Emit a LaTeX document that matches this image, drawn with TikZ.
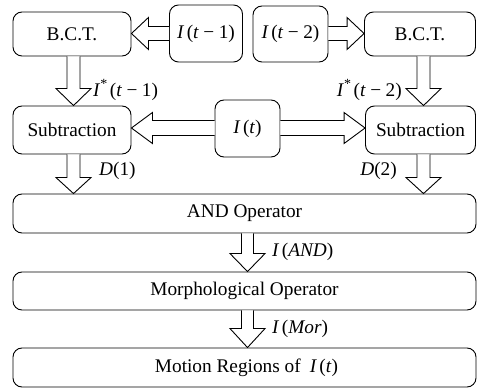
\documentclass[tikz,border=0pt]{standalone}
\usepackage{fontspec}
\setmainfont{Liberation Serif}
\usetikzlibrary{calc}
\tikzset{
  box/.style={draw, line width=0.9pt, rounded corners=9pt, inner sep=0pt, align=center,
    font=\fontsize{19.3}{23}\selectfont},
  blk/.style={draw, line width=0.9pt, fill=white, line join=miter},
  lbl/.style={inner sep=0pt, font=\fontsize{19.3}{23}\selectfont}
}
\newcommand{\ital}[1]{\textit{#1}}
\newcommand{\ststar}{\raisebox{0.42em}{\fontsize{14}{14}\selectfont *}}
\newcommand{\mminus}{\hspace{4.5pt}−\hspace{4.5pt}}
\newcommand{\iopen}{\hspace{2.5pt}(}
% vertical block arrow: #1 start point, #2 end point (tip), #3 shaft half, #4 head half, #5 head length
\newcommand{\vblk}[5]{%
  \path[blk] let \p1=#1, \p2=#2 in
   (\x1-#3,\y1) -- (\x1-#3,\y2+#5) -- (\x1-#4,\y2+#5) -- (\x1,\y2) -- (\x1+#4,\y2+#5)
   -- (\x1+#3,\y2+#5) -- (\x1+#3,\y1);}
% horizontal block arrow, #6 = direction (+1 right, -1 left)
\newcommand{\hblk}[6]{%
  \path[blk] let \p1=#1, \p2=#2 in
   (\x1,\y1+#3) -- (\x2-#6*#5,\y1+#3) -- (\x2-#6*#5,\y1+#4) -- (\x2,\y1) -- (\x2-#6*#5,\y1-#4)
   -- (\x2-#6*#5,\y1-#3) -- (\x1,\y1-#3);}
\begin{document}
\begin{tikzpicture}[x=1pt,y=1pt]
\useasboundingbox (0,0) rectangle (477,-390);
\node[box, minimum width=118, minimum height=44] (bct1) at (72,-34) {B.C.T.};
\node[box, minimum width=73, minimum height=57] (it1) at (206,-33.5) {\ital{I}\iopen\ital{t}\mminus 1)};
\node[box, minimum width=75, minimum height=56] (it2) at (290.5,-34) {\ital{I}\iopen\ital{t}\mminus 2)};
\node[box, minimum width=111, minimum height=44] (bct2) at (420,-34) {B.C.T.};
\node[box, minimum width=118, minimum height=48] (sub1) at (72,-130) {Subtraction};
\node[box, minimum width=65, minimum height=57] (it) at (247.5,-128.5) {\ital{I}\iopen\ital{t})};
\node[box, minimum width=110, minimum height=48] (sub2) at (420.5,-130) {Subtraction};
\node[box, minimum width=463, minimum height=39] (and) at (244.5,-213.5) {AND Operator};
\node[box, minimum width=463, minimum height=38] (mor) at (244.5,-291) {Morphological Operator};
\node[box, minimum width=463, minimum height=39] (mot) at (244.5,-367.5) {\hspace{4pt}Motion Regions of\hspace{9pt}\ital{I}\iopen\ital{t})};

% horizontal arrows
\hblk{(it1.west)}{(bct1.east)}{7}{16}{17}{-1}
\hblk{($(it2.east)+(0,0.5)$)}{(bct2.west)}{7}{16}{17}{1}
\hblk{($(it.west)+(0,0.5)$)}{(sub1.east)}{7.5}{15.5}{21}{-1}
\hblk{($(it.east)+(0,0.5)$)}{(sub2.west)}{7.5}{15.5}{21}{1}
% vertical arrows
\vblk{($(bct1.south)+(1.5,0)$)}{(sub1.north)}{6.5}{17.5}{17}
\vblk{($(bct2.south)+(3.5,0)$)}{(sub2.north)}{6.5}{17.5}{17}
\vblk{($(sub1.south)+(1.5,0)$)}{(and.north)}{6.5}{17.5}{16}
\vblk{($(sub2.south)+(3,0)$)}{(and.north)}{6.5}{17.5}{16}
\vblk{($(and.south)+(3,0)$)}{(mor.north)}{6}{17.5}{18}
\vblk{($(mor.south)+(3,0)$)}{(mot.north)}{6}{17.5}{19}

% labels
\node[lbl, anchor=base west] (l1) at (93,-97) {\ital{I}\ststar\iopen\ital{t}\mminus 1)};
\node[lbl, anchor=base east] (l2) at (402,-97) {\ital{I}\ststar\iopen\ital{t}\mminus 2)};
\node[lbl, anchor=base west] (l3) at (99,-176) {\ital{D}(1)};
\node[lbl, anchor=base east] (l4) at (397,-176) {\ital{D}(2)};
\node[lbl, anchor=base west] (l5) at (272,-257) {\ital{I}\iopen\ital{AND})};
\node[lbl, anchor=base west] (l6) at (272,-334) {\ital{I}\iopen\ital{Mor})};
\end{tikzpicture}
\end{document}
